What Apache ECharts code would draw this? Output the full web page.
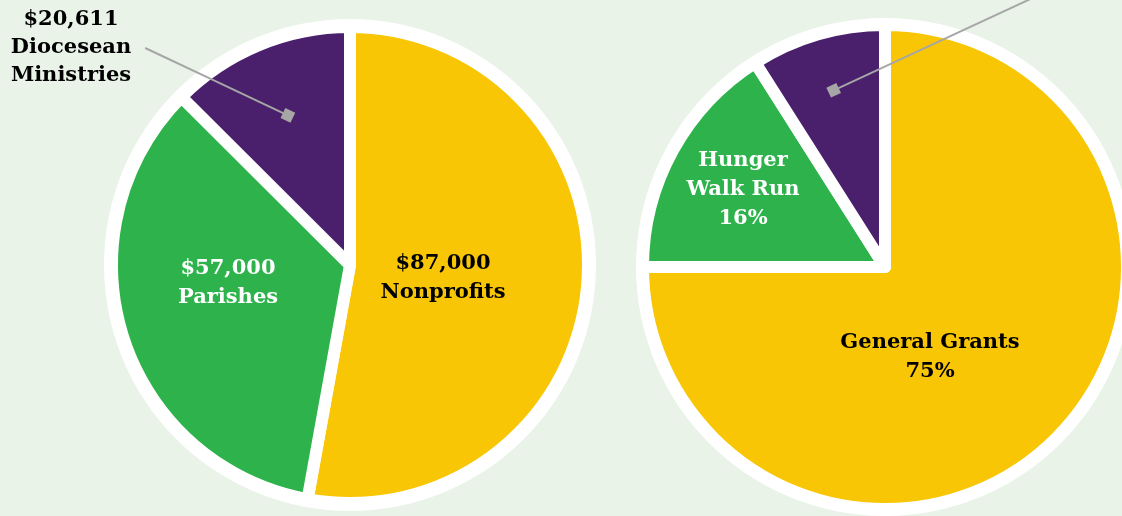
<!DOCTYPE html>
<html><head><meta charset="utf-8">
<script src="https://cdn.jsdelivr.net/npm/echarts@6/dist/echarts.min.js"></script>
<style>html,body{margin:0;padding:0;background:#e9f3e8;} #c{width:1122px;height:516px;}</style>
</head><body><div id="c"></div>
<script>
// ---- data ----
const leftCategories = ['Nonprofits', 'Parishes', 'Diocesean Ministries'];
const leftValues = [87000, 57000, 20611];
const rightCategories = ['General Grants', 'Hunger Walk Run', 'Other'];
const rightValues = [75, 16, 9];

// ---- style / layout ----
const YELLOW = '#f8c605', GREEN = '#2eb34c', PURPLE = '#4a206c', GRAY = '#a6a6a6', BG = '#e9f3e8';
const colors = [YELLOW, GREEN, PURPLE];
const FONT = 'DejaVu Serif';
const L = { c: [350, 265], disc: 246, r: 238, lineR: 162, markR: [150, 168] };
const R = { c: [885, 267], disc: 249, r: 242, lineR: 184, markR: [172, 190] };
const leftInsidePos = [{ x: 443, y: 278 }, { x: 228, y: 283 }];
const rightInsidePos = [{ x: 930, y: 357 }, { x: 743, y: 190 }];
const leftCalloutPos = { x: 71, y: 48 };
const rightCalloutPos = { x: 1080, y: -24 };

function money(v) { return '$' + v.toLocaleString('en-US'); }
const pct = (v, arr) => Math.round(v / arr.reduce((a, b) => a + b, 0) * 100) + '%';

function disc(cfg) {
  return { type: 'pie', center: cfg.c, radius: cfg.disc, silent: true, animation: false, z: 1,
    label: { show: false }, labelLine: { show: false },
    data: [{ value: 1, itemStyle: { color: '#fff' } }] };
}
function mainPie(cfg, cats, vals, fmt, pos, darkIdx) {
  return { type: 'pie', center: cfg.c, radius: cfg.r, startAngle: 90, clockwise: true, z: 2,
    silent: true, animation: false, avoidLabelOverlap: false,
    itemStyle: { borderColor: '#fff', borderWidth: 12 },
    label: { position: 'inside', formatter: fmt, fontFamily: FONT, fontWeight: 'bold', fontSize: 21, lineHeight: 29 },
    labelLine: { show: false },
    labelLayout: p => pos[p.dataIndex] ? { x: pos[p.dataIndex].x, y: pos[p.dataIndex].y, align: 'center', verticalAlign: 'middle' } : {},
    data: vals.map((v, i) => ({ value: v, name: cats[i], itemStyle: { color: colors[i] },
      label: { show: i < 2, color: i === darkIdx ? '#000' : '#fff' } })) };
}
function calloutPie(cfg, cats, vals, fmt, place, gap) {
  return { type: 'pie', center: cfg.c, radius: cfg.lineR, startAngle: 90, clockwise: true, z: 6,
    silent: true, animation: false, avoidLabelOverlap: false,
    itemStyle: { color: 'rgba(0,0,0,0)' },
    label: { position: 'outside', formatter: fmt, fontFamily: FONT, fontWeight: 'bold', fontSize: 21, lineHeight: 28, color: '#000', align: 'center' },
    labelLine: { show: true, length: 10, length2: 10, lineStyle: { color: GRAY, width: 2 } },
    labelLayout: p => {
      if (p.dataIndex !== 2) return {};
      const p0 = p.labelLinePoints[0];
      const end = gap != null ? [place.x + p.labelRect.width / 2 + gap, place.y] : [place.x, place.y];
      const mid = [(p0[0] + end[0]) / 2, (p0[1] + end[1]) / 2];
      return { x: place.x, y: place.y, align: gap != null ? 'center' : 'left', verticalAlign: gap != null ? 'middle' : 'bottom', labelLinePoints: [p0, mid, end] };
    },
    data: vals.map((v, i) => ({ value: v, name: cats[i], label: { show: i === 2 }, labelLine: { show: i === 2 } })) };
}
function markerPie(cfg, vals, rot) {
  return { type: 'pie', center: cfg.c, radius: cfg.markR, startAngle: 90, clockwise: true, z: 7,
    silent: true, animation: false, avoidLabelOverlap: false,
    itemStyle: { color: 'rgba(0,0,0,0)' },
    label: { position: 'inside', formatter: '\u00a0', width: 11, height: 11, lineHeight: 11, fontSize: 8, padding: 0,
      backgroundColor: GRAY, rotate: rot },
    labelLine: { show: false },
    data: vals.map((v, i) => ({ value: v, label: { show: i === 2 } })) };
}

const chart = echarts.init(document.getElementById('c'), null, { renderer: 'canvas' });
chart.setOption({
  backgroundColor: BG,
  animation: false,
  series: [
    disc(L), disc(R),
    mainPie(L, leftCategories, leftValues, p => money(p.value) + '\n' + p.name, leftInsidePos, 0),
    mainPie(R, rightCategories, rightValues, p => p.name.replace('Hunger ', 'Hunger\n') + '\n' + pct(p.value, rightValues), rightInsidePos, 0),
    calloutPie(L, leftCategories, leftValues, p => money(p.value) + '\n' + p.name.replace(' ', '\n'), leftCalloutPos, 14),
    calloutPie(R, rightCategories, rightValues, p => p.name + '\n' + pct(p.value, rightValues), rightCalloutPos, null),
    markerPie(L, leftValues, -26), markerPie(R, rightValues, 25)
  ]
});
</script></body></html>
